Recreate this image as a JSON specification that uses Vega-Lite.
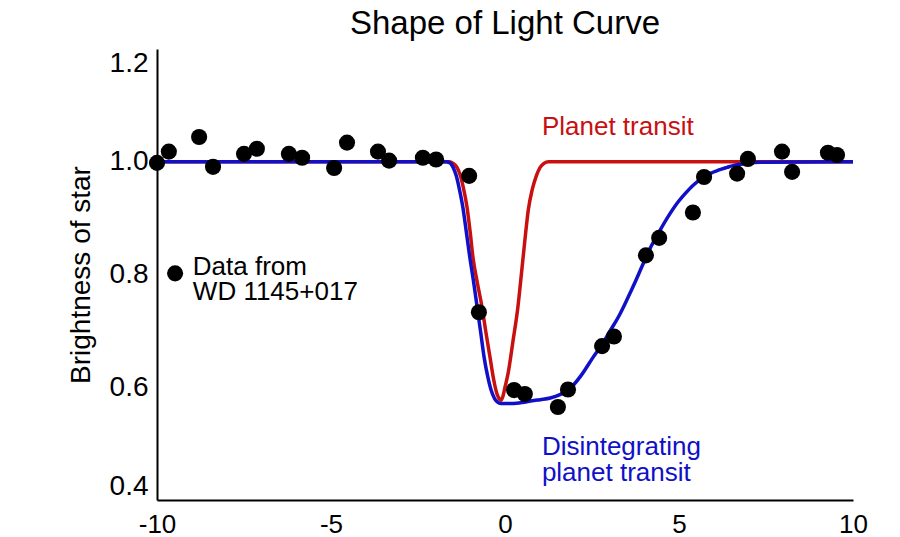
{
  "$schema": "https://vega.github.io/schema/vega-lite/v6.json",
  "autosize": {"type": "none"},
  "padding": {"left": 157, "top": 49, "right": 47, "bottom": 37},
  "width": 696,
  "height": 451,
  "background": "white",
  "title": {
    "text": "Shape of Light Curve",
    "font": "Liberation Sans",
    "fontSize": 33,
    "fontWeight": "normal",
    "color": "black",
    "anchor": "middle",
    "offset": 8
  },
  "config": {
    "view": {"stroke": null},
    "font": "Liberation Sans",
    "axis": {
      "grid": false,
      "ticks": false,
      "tickSize": 0,
      "domainColor": "black",
      "domainWidth": 2,
      "labelFont": "Liberation Sans",
      "labelFontSize": 28,
      "labelColor": "black",
      "labelOverlap": false,
      "titleFont": "Liberation Sans",
      "titleFontSize": 28,
      "titleFontWeight": "normal",
      "titleColor": "black"
    }
  },
  "datasets": {
    "observed": [
      {"phase": -10.0, "brightness": 0.998},
      {"phase": -9.66, "brightness": 1.018},
      {"phase": -8.79, "brightness": 1.044},
      {"phase": -8.39, "brightness": 0.991},
      {"phase": -7.5, "brightness": 1.014},
      {"phase": -7.13, "brightness": 1.023},
      {"phase": -6.21, "brightness": 1.014},
      {"phase": -5.83, "brightness": 1.007},
      {"phase": -4.91, "brightness": 0.989},
      {"phase": -4.54, "brightness": 1.034},
      {"phase": -3.65, "brightness": 1.018},
      {"phase": -3.33, "brightness": 1.002},
      {"phase": -2.36, "brightness": 1.007},
      {"phase": -1.98, "brightness": 1.004},
      {"phase": -1.03, "brightness": 0.975},
      {"phase": -0.75, "brightness": 0.733},
      {"phase": 0.26, "brightness": 0.595},
      {"phase": 0.57, "brightness": 0.588},
      {"phase": 1.52, "brightness": 0.565},
      {"phase": 1.81, "brightness": 0.596},
      {"phase": 2.79, "brightness": 0.673},
      {"phase": 3.13, "brightness": 0.69},
      {"phase": 4.05, "brightness": 0.834},
      {"phase": 4.43, "brightness": 0.865},
      {"phase": 5.4, "brightness": 0.91},
      {"phase": 5.72, "brightness": 0.973},
      {"phase": 6.67, "brightness": 0.979},
      {"phase": 6.98, "brightness": 1.005},
      {"phase": 7.96, "brightness": 1.018},
      {"phase": 8.25, "brightness": 0.982},
      {"phase": 9.28, "brightness": 1.016},
      {"phase": 9.54, "brightness": 1.012}
    ],
    "legendDot": [
      {"phase": -9.48, "brightness": 0.802}
    ],
    "planet": [
      {"phase": -10, "brightness": 1.0},
      {"phase": -1.6, "brightness": 1.0},
      {"phase": -1.49, "brightness": 0.997},
      {"phase": -1.38, "brightness": 0.99},
      {"phase": -1.29, "brightness": 0.977},
      {"phase": -1.2, "brightness": 0.955},
      {"phase": -1.09, "brightness": 0.919},
      {"phase": -1.0, "brightness": 0.875},
      {"phase": -0.92, "brightness": 0.83},
      {"phase": -0.8, "brightness": 0.787},
      {"phase": -0.66, "brightness": 0.742},
      {"phase": -0.55, "brightness": 0.698},
      {"phase": -0.43, "brightness": 0.653},
      {"phase": -0.33, "brightness": 0.615},
      {"phase": -0.23, "brightness": 0.588},
      {"phase": -0.17, "brightness": 0.58},
      {"phase": -0.12, "brightness": 0.577},
      {"phase": -0.07, "brightness": 0.582},
      {"phase": 0.0, "brightness": 0.6},
      {"phase": 0.09, "brightness": 0.625},
      {"phase": 0.23, "brightness": 0.682},
      {"phase": 0.37, "brightness": 0.742},
      {"phase": 0.47, "brightness": 0.8},
      {"phase": 0.57, "brightness": 0.86},
      {"phase": 0.67, "brightness": 0.915},
      {"phase": 0.78, "brightness": 0.95},
      {"phase": 0.9, "brightness": 0.975},
      {"phase": 1.01, "brightness": 0.99},
      {"phase": 1.12, "brightness": 0.997},
      {"phase": 1.25, "brightness": 1.0},
      {"phase": 10, "brightness": 1.0}
    ],
    "disintegrating": [
      {"phase": -10, "brightness": 1.0},
      {"phase": -1.7, "brightness": 1.0},
      {"phase": -1.58, "brightness": 0.998},
      {"phase": -1.49, "brightness": 0.99},
      {"phase": -1.4, "brightness": 0.975},
      {"phase": -1.31, "brightness": 0.951},
      {"phase": -1.21, "brightness": 0.919},
      {"phase": -1.11, "brightness": 0.875},
      {"phase": -1.01, "brightness": 0.83},
      {"phase": -0.9, "brightness": 0.786},
      {"phase": -0.8, "brightness": 0.742},
      {"phase": -0.7, "brightness": 0.698},
      {"phase": -0.6, "brightness": 0.653},
      {"phase": -0.5, "brightness": 0.62},
      {"phase": -0.4, "brightness": 0.595},
      {"phase": -0.3, "brightness": 0.58},
      {"phase": -0.22, "brightness": 0.574},
      {"phase": -0.12, "brightness": 0.571},
      {"phase": 0.2, "brightness": 0.571},
      {"phase": 0.6, "brightness": 0.574},
      {"phase": 1.01, "brightness": 0.578},
      {"phase": 1.3, "brightness": 0.581},
      {"phase": 1.58, "brightness": 0.587},
      {"phase": 1.87, "brightness": 0.598},
      {"phase": 2.2, "brightness": 0.622},
      {"phase": 2.53, "brightness": 0.653},
      {"phase": 2.8, "brightness": 0.677},
      {"phase": 3.02, "brightness": 0.7},
      {"phase": 3.27, "brightness": 0.726},
      {"phase": 3.51, "brightness": 0.756},
      {"phase": 3.75, "brightness": 0.788},
      {"phase": 3.97, "brightness": 0.819},
      {"phase": 4.2, "brightness": 0.85},
      {"phase": 4.45, "brightness": 0.878},
      {"phase": 4.7, "brightness": 0.904},
      {"phase": 4.94, "brightness": 0.926},
      {"phase": 5.17, "brightness": 0.943},
      {"phase": 5.4, "brightness": 0.958},
      {"phase": 5.65, "brightness": 0.97},
      {"phase": 5.89, "brightness": 0.979},
      {"phase": 6.13, "brightness": 0.985},
      {"phase": 6.38, "brightness": 0.99},
      {"phase": 6.6, "brightness": 0.994},
      {"phase": 6.84, "brightness": 0.996},
      {"phase": 7.33, "brightness": 0.999},
      {"phase": 10, "brightness": 1.0}
    ],
    "notes": [
      {"phase": -8.97, "brightness": 0.8, "label": "Data from", "kind": "data"},
      {"phase": -8.97, "brightness": 0.754, "label": "WD 1145+017", "kind": "data"},
      {"phase": 1.06, "brightness": 1.048, "label": "Planet transit", "kind": "planet"},
      {"phase": 1.06, "brightness": 0.479, "label": "Disintegrating", "kind": "disintegrating"},
      {"phase": 1.06, "brightness": 0.433, "label": "planet transit", "kind": "disintegrating"}
    ]
  },
  "encoding": {
    "x": {
      "field": "phase",
      "type": "quantitative",
      "scale": {"domain": [-10, 10], "nice": false, "zero": false},
      "axis": {
        "title": null,
        "values": [-10, -5, 0, 5, 10],
        "labelExpr": "'' + datum.value",
        "labelFlush": false,
        "labelFontSize": 26,
        "labelPadding": 11
      }
    },
    "y": {
      "field": "brightness",
      "type": "quantitative",
      "scale": {"domain": [0.4, 1.2], "nice": false, "zero": false},
      "axis": {
        "title": "Brightness of star",
        "values": [0.4, 0.6, 0.8, 1.0, 1.2],
        "format": ".1f",
        "labelFlush": true,
        "labelPadding": 9,
        "titlePadding": 14
      }
    }
  },
  "layer": [
    {
      "data": {"name": "planet"},
      "mark": {"type": "line", "color": "#c81010", "strokeWidth": 3.5, "interpolate": "monotone"}
    },
    {
      "data": {"name": "disintegrating"},
      "mark": {"type": "line", "color": "#1010c8", "strokeWidth": 3.5, "interpolate": "monotone"}
    },
    {
      "data": {"name": "observed"},
      "mark": {"type": "point", "filled": true, "color": "black", "opacity": 1, "size": 260}
    },
    {
      "data": {"name": "legendDot"},
      "mark": {"type": "point", "filled": true, "color": "black", "opacity": 1, "size": 260}
    },
    {
      "data": {"name": "notes"},
      "mark": {"type": "text", "align": "left", "baseline": "alphabetic", "fontSize": 26, "font": "Liberation Sans"},
      "encoding": {
        "text": {"field": "label"},
        "color": {
          "field": "kind",
          "type": "nominal",
          "scale": {"domain": ["data", "planet", "disintegrating"], "range": ["black", "#c81010", "#1010c8"]},
          "legend": null
        }
      }
    }
  ]
}
